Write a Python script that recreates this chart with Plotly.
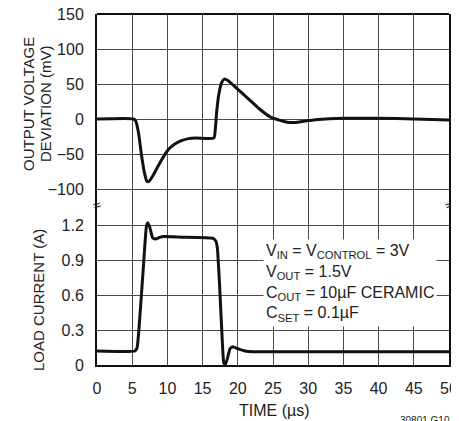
import plotly.graph_objects as go
from plotly.subplots import make_subplots

# ---- data ----
t_v = [0, 5.2, 5.5, 5.9, 6.3, 6.7, 7.1, 7.4, 8.0, 8.8, 9.5, 10.2, 11.0, 12.0, 13.0, 14.0,
       16.6, 16.8, 17.0, 17.3, 17.7, 18.1, 18.6, 19.5, 20.5, 21.7, 23.0, 24.6, 26.0, 27.0,
       28.1, 29.5, 31.0, 33.0, 35.0, 40.0, 45.0, 50.0]
v_dev = [0, 0, -3, -20, -50, -75, -89, -89, -80, -65, -53, -43, -36, -31, -28, -27,
         -27, -15, 10, 35, 52, 57, 55, 47, 38, 27, 15, 3, -2, -4.5,
         -5, -3, -1, 0.5, 1.2, 1.0, 0, -1.5]

t_i = [0, 5.4, 5.7, 5.95, 6.6, 7.0, 7.2, 7.5, 7.9, 8.3, 9.2, 12.0, 16.5, 16.9, 17.1, 17.4,
       17.8, 18.0, 18.2, 18.5, 18.9, 19.3, 20.0, 21.0, 22.2, 50.0]
i_load = [0.12, 0.12, 0.15, 0.3, 0.85, 1.18, 1.22, 1.18, 1.09, 1.08, 1.10, 1.095, 1.085, 1.06, 1.0, 0.7,
          0.2, 0.02, 0.0, 0.05, 0.14, 0.157, 0.14, 0.12, 0.113, 0.113]

x_ticks = [0, 5, 10, 15, 20, 25, 30, 35, 40, 45, 50]
v_ticks = [-100, -50, 0, 50, 100, 150]
i_ticks = [0, 0.3, 0.6, 0.9, 1.2]
i_tick_text = ["0", "0.3", "0.6", "0.9", "1.2"]

FONT = "Liberation Sans, Arial, sans-serif"
TXT = "#222"
# plot area in page pixels: x 97..449, y 14..365 (page body has an 8px margin)
PX0, PX1, PY0, PY1 = 97, 449, 14, 365


def px(x):
    return (x - PX0) / (PX1 - PX0)


def py(y):
    return (PY1 - y) / (PY1 - PY0)


BRK = py(205)

fig = make_subplots(rows=2, cols=1, shared_xaxes=True, vertical_spacing=0,
                    row_heights=[1 - BRK, BRK])

fig.add_trace(go.Scatter(x=t_v, y=v_dev, mode="lines",
                         line=dict(color="#111", width=3, shape="spline", smoothing=0.6),
                         hoverinfo="skip", showlegend=False), row=1, col=1)
fig.add_trace(go.Scatter(x=t_i, y=i_load, mode="lines",
                         line=dict(color="#111", width=3, shape="spline", smoothing=0.4),
                         hoverinfo="skip", showlegend=False), row=2, col=1)

grid = "#4a4a4a"
tickfont = dict(family=FONT, size=16, color=TXT)
fig.update_xaxes(range=[0, 50], tickvals=x_ticks, showgrid=True, gridcolor=grid, gridwidth=1,
                 zeroline=False, ticks="", tickfont=tickfont, automargin=False,
                 ticklabeloverflow="allow")
fig.update_xaxes(row=1, col=1, showticklabels=False, showline=False)
fig.update_xaxes(row=2, col=1, showticklabels=True, showline=True, linecolor="#111",
                 linewidth=2, ticktext=[str(v) for v in x_ticks], ticklabelstandoff=8)

fig.update_yaxes(row=1, col=1, range=[-100 - 16 / 0.7, 150], tickvals=v_ticks,
                 ticktext=[str(v).replace("-", "\u2212") for v in v_ticks],
                 showgrid=True, gridcolor=grid, gridwidth=1, zeroline=False,
                 showline=True, mirror=True, linecolor="#111", linewidth=2, ticks="",
                 ticklabelstandoff=8, ticklabeloverflow="allow", automargin=False,
                 tickfont=tickfont)
fig.update_yaxes(row=2, col=1, range=[0, 160 * 0.3 / 35], tickvals=i_ticks,
                 ticktext=i_tick_text,
                 showgrid=True, gridcolor=grid, gridwidth=1, zeroline=False,
                 showline=True, mirror=True, linecolor="#111", linewidth=2, ticks="",
                 ticklabelstandoff=8, ticklabeloverflow="allow", automargin=False,
                 tickfont=tickfont)

ann = [
    dict(text="OUTPUT VOLTAGE", x=px(29), y=py(104), textangle=-90,
         font=dict(family=FONT, size=15, color=TXT)),
    dict(text="DEVIATION (mV)", x=px(46), y=py(104), textangle=-90,
         font=dict(family=FONT, size=15, color=TXT)),
    dict(text="LOAD CURRENT (A)", x=px(38), y=py(300), textangle=-90,
         font=dict(family=FONT, size=15, color=TXT)),
    dict(text="TIME (µs)", x=px(274), y=py(410),
         font=dict(family=FONT, size=16, color=TXT)),
    dict(text="V<sub>IN</sub> = V<sub>CONTROL</sub> = 3V<br>V<sub>OUT</sub> = 1.5V<br>"
              "C<sub>OUT</sub> = 10µF CERAMIC<br>C<sub>SET</sub> = 0.1µF",
         x=px(263), y=py(239), align="left", xanchor="left", yanchor="top",
         bgcolor="white", borderpad=2, font=dict(family=FONT, size=16, color=TXT)),
    dict(text="≈", x=0, y=BRK, textangle=-20,
         font=dict(family=FONT, size=14, color=TXT)),
    dict(text="≈", x=1, y=BRK, textangle=-20,
         font=dict(family=FONT, size=14, color=TXT)),
    dict(text="30801 G10", x=px(452), y=py(413), xanchor="right", yanchor="top",
         font=dict(family=FONT, size=10, color=TXT)),
]
for a in ann:
    a.setdefault("xref", "paper")
    a.setdefault("yref", "paper")
    a.setdefault("showarrow", False)
    a.setdefault("xanchor", "center")
    a.setdefault("yanchor", "middle")

# top border of the frame
shapes = [dict(type="line", xref="paper", yref="paper", x0=0, x1=1, y0=1, y1=1,
               line=dict(color="#111", width=2))]

fig.update_layout(width=451, height=413,
                  margin=dict(l=PX0 - 8, r=459 - PX1, t=PY0 - 8, b=421 - PY1),
                  plot_bgcolor="white", paper_bgcolor="white", annotations=ann,
                  shapes=shapes, showlegend=False)

fig.write_html("out.html")
